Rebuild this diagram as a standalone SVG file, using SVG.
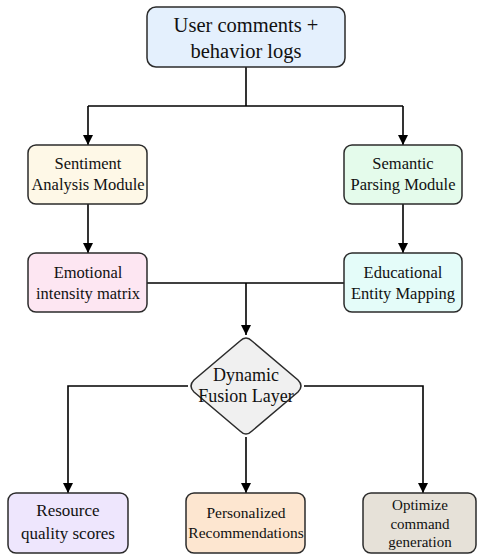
<svg xmlns="http://www.w3.org/2000/svg" width="478" height="555" viewBox="0 0 478 555">
<style>
.box{stroke:#2b2b2b;stroke-width:1.5}
.t{font-family:'Liberation Serif','Times New Roman',Times,'Noto Serif','DejaVu Serif',serif;fill:#111;text-anchor:middle}
.ln{fill:none;stroke:#000;stroke-width:1.6}
</style>
<defs>
<marker id="ah" viewBox="0 0 10 10" refX="10" refY="5" markerWidth="10" markerHeight="10" markerUnits="userSpaceOnUse" orient="auto">
<path d="M0,0 L10,5 L0,10 z" fill="#000"/>
</marker>
</defs>
<rect width="478" height="555" fill="#fff"/>
<g id="connectors">
<path class="ln" d="M246,67 V106"/>
<path class="ln" d="M88,106 H403"/>
<path class="ln" d="M88,106 V145" marker-end="url(#ah)"/>
<path class="ln" d="M403,106 V145" marker-end="url(#ah)"/>
<path class="ln" d="M88,204 V253" marker-end="url(#ah)"/>
<path class="ln" d="M403,204 V253" marker-end="url(#ah)"/>
<path class="ln" d="M147,283 H344"/>
<path class="ln" d="M246,283 V335" marker-end="url(#ah)"/>
<path class="ln" d="M188,386 H68 V493" marker-end="url(#ah)"/>
<path class="ln" d="M246,437 V493" marker-end="url(#ah)"/>
<path class="ln" d="M304,386 H423 V493" marker-end="url(#ah)"/>
</g>
<g id="n-input">
<rect class="box" x="147" y="7" width="198" height="60" rx="9" fill="#e4f0fd"/>
<text class="t" x="246" y="32" font-size="20.5">User comments +</text>
<text class="t" x="246" y="58" font-size="20.5">behavior logs</text>
</g>
<g id="n-sentiment">
<rect class="box" x="28" y="145" width="119" height="59" rx="8" fill="#fef8e7"/>
<text class="t" x="88" y="169" font-size="16.5">Sentiment</text>
<text class="t" x="88" y="190" font-size="16.5">Analysis Module</text>
</g>
<g id="n-semantic">
<rect class="box" x="344" y="145" width="118" height="59" rx="8" fill="#e4fbeb"/>
<text class="t" x="403" y="169" font-size="16.5">Semantic</text>
<text class="t" x="403" y="190" font-size="16.5">Parsing Module</text>
</g>
<g id="n-emotional">
<rect class="box" x="28" y="253" width="119" height="59" rx="8" fill="#fde6f2"/>
<text class="t" x="88" y="278" font-size="16.5">Emotional</text>
<text class="t" x="88" y="299" font-size="16.5">intensity matrix</text>
</g>
<g id="n-educational">
<rect class="box" x="344" y="253" width="118" height="59" rx="8" fill="#e4fcf9"/>
<text class="t" x="403" y="278" font-size="16.5">Educational</text>
<text class="t" x="403" y="299" font-size="16.5">Entity Mapping</text>
</g>
<g id="n-fusion">
<path class="box" d="M240,341 Q246,335 252,341 L298,380 Q304,386 298,392 L252,431 Q246,437 240,431 L194,392 Q188,386 194,380 Z" fill="#f0f0f0"/>
<text class="t" x="246" y="381" font-size="18">Dynamic</text>
<text class="t" x="246" y="402" font-size="18">Fusion Layer</text>
</g>
<g id="n-resource">
<rect class="box" x="8" y="493" width="120" height="60" rx="8" fill="#eee6fd"/>
<text class="t" x="68" y="516" font-size="17">Resource</text>
<text class="t" x="68" y="539" font-size="17">quality scores</text>
</g>
<g id="n-personalized">
<rect class="box" x="186" y="493" width="119" height="60" rx="8" fill="#fde6d0"/>
<text class="t" x="246" y="518" font-size="15.5">Personalized</text>
<text class="t" x="246" y="538" font-size="15.5">Recommendations</text>
</g>
<g id="n-optimize">
<rect class="box" x="363" y="493" width="113" height="60" rx="8" fill="#e6e1d8"/>
<text class="t" x="420" y="510" font-size="15">Optimize</text>
<text class="t" x="420" y="529" font-size="15">command</text>
<text class="t" x="420" y="547" font-size="15">generation</text>
</g>
</svg>
